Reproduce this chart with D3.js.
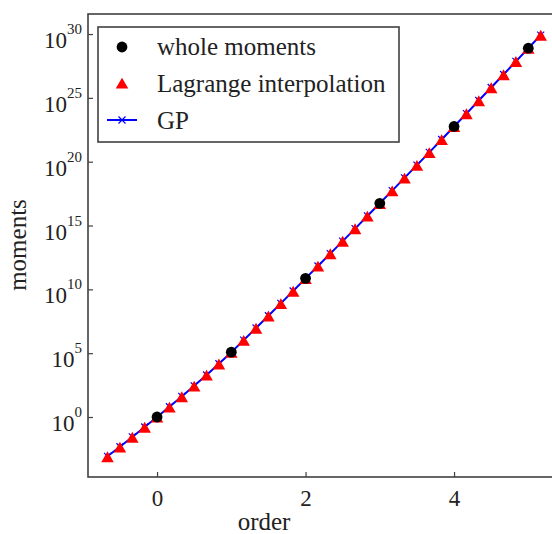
<!DOCTYPE html>
<html>
<head>
<meta charset="utf-8">
<script src="https://cdn.jsdelivr.net/npm/d3@7"></script>
<style>
    body { margin: 0; background: #fff; }
    svg { display: block; font-family: "Liberation Serif", "Times New Roman", serif; }
</style>
</head>
<body>
<svg id="chart"></svg>
<script>
// whole moments (log10 of value)
const wholeOrders = [0, 1, 2, 3, 4, 5];
const wholeLog10 = [0, 5.08, 10.86, 16.74, 22.76, 28.89];

// interpolated orders, step 1/6
const interpOrders = [-0.667, -0.5, -0.333, -0.167, 0, 0.167, 0.333, 0.5, 0.667, 0.833,
    1, 1.167, 1.333, 1.5, 1.667, 1.833, 2, 2.167, 2.333, 2.5, 2.667, 2.833,
    3, 3.167, 3.333, 3.5, 3.667, 3.833, 4, 4.167, 4.333, 4.5, 4.667, 4.833, 5, 5.167];
const lagrangeLog10 = [-3.10, -2.34, -1.57, -0.79, 0, 0.79, 1.60, 2.43, 3.29, 4.17,
    5.08, 6.02, 6.97, 7.93, 8.90, 9.87, 10.86, 11.83, 12.80, 13.78, 14.76, 15.75,
    16.74, 17.73, 18.73, 19.73, 20.73, 21.74, 22.76, 23.77, 24.79, 25.81, 26.83, 27.86, 28.89, 29.92];
const gpLog10 = [-3.08, -2.33, -1.56, -0.78, 0, 0.80, 1.61, 2.44, 3.29, 4.17,
    5.08, 6.02, 6.97, 7.93, 8.90, 9.87, 10.86, 11.83, 12.80, 13.78, 14.76, 15.75,
    16.74, 17.73, 18.73, 19.73, 20.73, 21.74, 22.76, 23.77, 24.79, 25.81, 26.83, 27.86, 28.89, 29.92];

const xTicks = [0, 2, 4];
const yTickExps = [0, 5, 10, 15, 20, 25, 30];
const legendLabels = ['whole moments', 'Lagrange interpolation', 'GP'];

class MomentsChart {
    constructor(_config) {
        this.config = {
            parentElement: _config.parentElement,
            containerWidth: _config.containerWidth || 552,
            containerHeight: _config.containerHeight || 534,
            margin: { top: 14, bottom: 57, right: -6, left: 88 }
        }
        this.initVis();
    }

    initVis() {
        let vis = this;
        vis.width = vis.config.containerWidth - vis.config.margin.left - vis.config.margin.right;
        vis.height = vis.config.containerHeight - vis.config.margin.top - vis.config.margin.bottom;

        vis.svg = d3.select(vis.config.parentElement)
            .attr('width', vis.config.containerWidth)
            .attr('height', vis.config.containerHeight);
        vis.chart = vis.svg.append('g')
            .attr('transform', `translate(${vis.config.margin.left},${vis.config.margin.top})`);

        vis.xScale = d3.scaleLinear()
            .domain([-0.93, 5.4])
            .range([0, vis.width]);
        vis.yScale = d3.scaleLog()
            .domain([Math.pow(10, -4.7), Math.pow(10, 31.57)])
            .range([vis.height, 0]);

        vis.updateVis();
    }

    updateVis() {
        let vis = this;
        const axisColor = '#404040';

        // frame
        vis.chart.append('rect')
            .attr('width', vis.width)
            .attr('height', vis.height)
            .attr('fill', 'none')
            .attr('stroke', axisColor)
            .attr('stroke-width', 1.6);

        let xAxisG = vis.chart.append('g')
            .attr('transform', `translate(0,${vis.height})`)
            .call(d3.axisBottom(vis.xScale).tickValues(xTicks).tickFormat(d3.format('d'))
                .tickSizeInner(-5).tickSizeOuter(0).tickPadding(12));
        xAxisG.attr('font-family', null).attr('font-size', null);
        xAxisG.select('.domain').remove();
        xAxisG.selectAll('line').attr('stroke', axisColor).attr('stroke-width', 1.2);
        xAxisG.selectAll('text')
            .attr('fill', '#222')
            .style('font-size', '23px')
            .attr('dy', '0.72em');

        let yAxisG = vis.chart.append('g')
            .call(d3.axisLeft(vis.yScale)
                .tickValues(yTickExps.map(e => Math.pow(10, e)))
                .tickSizeInner(-5).tickSizeOuter(0)
                .tickFormat(''));
        yAxisG.select('.domain').remove();
        yAxisG.selectAll('line').attr('stroke', axisColor).attr('stroke-width', 1.2);

        // tick labels with superscripts
        let ylab = vis.chart.selectAll('.ylab')
            .data(yTickExps)
            .enter()
            .append('text')
            .attr('class', 'ylab')
            .attr('x', -6)
            .attr('y', d => vis.yScale(Math.pow(10, d)) + 14)
            .attr('text-anchor', 'end')
            .attr('fill', '#222')
            .style('font-size', '23px');
        ylab.append('tspan').text('10');
        ylab.append('tspan')
            .attr('dy', -14)
            .style('font-size', '15px')
            .text(d => d);

        // axis titles
        vis.svg.append('text')
            .attr('x', 264)
            .attr('y', 530)
            .attr('text-anchor', 'middle')
            .attr('fill', '#222')
            .style('font-size', '25px')
            .text('order');
        vis.svg.append('text')
            .attr('transform', 'translate(26,245) rotate(-90)')
            .attr('text-anchor', 'middle')
            .attr('fill', '#222')
            .style('font-size', '25px')
            .text('moments');

        const gpData = interpOrders.map((o, i) => ({ x: o, y: Math.pow(10, gpLog10[i]) }));
        const lagData = interpOrders.map((o, i) => ({ x: o, y: Math.pow(10, lagrangeLog10[i]) }));
        const wholeData = wholeOrders.map((o, i) => ({ x: o, y: Math.pow(10, wholeLog10[i]) }));

        const crossPath = 'M-3.5,-3.5L3.5,3.5M-3.5,3.5L3.5,-3.5';
        const triangle = d3.symbol(d3.symbolTriangle, 68);

        // GP line + crosses
        vis.chart.append('path')
            .datum(gpData)
            .attr('fill', 'none')
            .attr('stroke', '#0000ff')
            .attr('stroke-width', 2)
            .attr('d', d3.line().x(d => vis.xScale(d.x)).y(d => vis.yScale(d.y)));
        vis.chart.selectAll('.gp')
            .data(gpData)
            .enter()
            .append('path')
            .attr('class', 'gp')
            .attr('d', crossPath)
            .attr('transform', d => `translate(${vis.xScale(d.x)},${vis.yScale(d.y)})`)
            .attr('stroke', '#0000ff')
            .attr('stroke-width', 1.2);

        // Lagrange triangles
        vis.chart.selectAll('.lag')
            .data(lagData)
            .enter()
            .append('path')
            .attr('class', 'lag')
            .attr('d', triangle)
            .attr('transform', d => `translate(${vis.xScale(d.x)},${vis.yScale(d.y) + 2})`)
            .attr('fill', '#ff0000');

        // whole moments dots
        vis.chart.selectAll('.whole')
            .data(wholeData)
            .enter()
            .append('circle')
            .attr('class', 'whole')
            .attr('cx', d => vis.xScale(d.x))
            .attr('cy', d => vis.yScale(d.y))
            .attr('r', 5.4)
            .attr('fill', '#000');

        // legend
        let leg = vis.svg.append('g');
        leg.append('rect')
            .attr('x', 98)
            .attr('y', 27)
            .attr('width', 301)
            .attr('height', 115)
            .attr('fill', '#fff')
            .attr('stroke', axisColor)
            .attr('stroke-width', 1.6);
        leg.append('circle').attr('cx', 122).attr('cy', 47).attr('r', 5.4).attr('fill', '#000');
        leg.append('path').attr('d', triangle).attr('transform', 'translate(122,85)').attr('fill', '#ff0000');
        leg.append('line')
            .attr('x1', 107).attr('x2', 137).attr('y1', 120).attr('y2', 120)
            .attr('stroke', '#0000ff').attr('stroke-width', 2);
        leg.append('path').attr('d', crossPath).attr('transform', 'translate(122,120)')
            .attr('stroke', '#0000ff').attr('stroke-width', 1.2);
        leg.selectAll('.legtext')
            .data(legendLabels)
            .enter()
            .append('text')
            .attr('class', 'legtext')
            .attr('x', 157)
            .attr('y', (d, i) => 55 + i * 37)
            .attr('fill', '#222')
            .style('font-size', '25px')
            .text(d => d);
    }
}

new MomentsChart({ parentElement: '#chart' });
</script>
</body>
</html>
